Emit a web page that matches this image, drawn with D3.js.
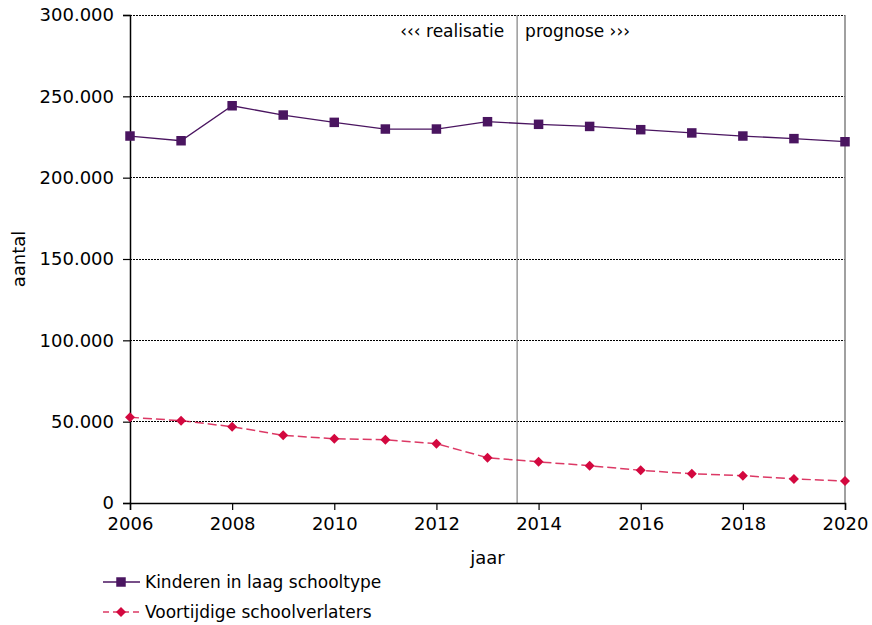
<!DOCTYPE html>
<html><head><meta charset="utf-8">
<script src="https://cdn.jsdelivr.net/npm/d3@7"></script>
<style>body{margin:0;background:#fff}svg{display:block}text{font-family:"DejaVu Sans",Verdana,sans-serif;fill:#000}</style>
</head><body><svg id="c" width="872" height="625"></svg>
<script>
const years = [2006,2007,2008,2009,2010,2011,2012,2013,2014,2015,2016,2017,2018,2019,2020];
const kinderen = [225600,222700,244200,238500,234000,229900,229900,234400,232800,231500,229500,227500,225600,224000,222100];
const voortijdig = [52700,50600,46900,41600,39500,38900,36500,27800,25300,22900,20100,18000,16800,14800,13500];
const yTicks = [0,50000,100000,150000,200000,250000,300000];
const xTicks = [2006,2008,2010,2012,2014,2016,2018,2020];
const separatorYear = 2013.58;
const seriesNames = ["Kinderen in laag schooltype","Voortijdige schoolverlaters"];

const svg = d3.select("#c");
const L=130,R=845,T=15,B=503;
const x = d3.scaleLinear().domain([2006,2020]).range([L,R]);
const y = d3.scaleLinear().domain([0,300000]).range([B,T]);
const fmt = v => v===0 ? "0" : d3.format(",")(v).replace(/,/g,".");
const fs = "18px";

// gridlines
svg.append("g").selectAll("line").data(yTicks.filter(d=>d>0)).join("line")
  .attr("x1",L).attr("x2",R).attr("y1",d=>y(d)).attr("y2",d=>y(d))
  .attr("stroke","#000").attr("stroke-width",1).attr("stroke-dasharray","2,1").attr("shape-rendering","crispEdges");
// right border
svg.append("line").attr("x1",R).attr("x2",R).attr("y1",T).attr("y2",B).attr("stroke","#808080").attr("stroke-width",1.5);
// separator
svg.append("line").attr("x1",x(separatorYear)).attr("x2",x(separatorYear)).attr("y1",T).attr("y2",B)
  .attr("stroke","#808080").attr("stroke-width",1.2);
svg.append("text").attr("x",x(separatorYear)-13).attr("y",37).attr("text-anchor","end").style("font-size","17px").text("‹‹‹ realisatie");
svg.append("text").attr("x",x(separatorYear)+8).attr("y",37).attr("text-anchor","start").style("font-size","17px").text("prognose ›››");

// axes
const yAxis = svg.append("g").attr("transform",`translate(${L},0)`)
  .call(d3.axisLeft(y).tickValues(yTicks).tickFormat(fmt).tickSize(7).tickPadding(9));
const xAxis = svg.append("g").attr("transform",`translate(0,${B})`)
  .call(d3.axisBottom(x).tickValues(xTicks).tickFormat(d3.format("d")).tickSize(7).tickPadding(7));
[yAxis,xAxis].forEach(g=>{
  g.select(".domain").attr("stroke","#000").attr("stroke-width",1.5);
  g.selectAll(".tick line").attr("stroke","#000").attr("stroke-width",1.2);
  g.selectAll("text").style("font-size",fs).style("font-family","DejaVu Sans, Verdana, sans-serif").attr("fill","#000");
});

svg.append("text").attr("x",(L+R)/2).attr("y",564).attr("text-anchor","middle").style("font-size",fs).text("jaar");
svg.append("text").attr("transform",`translate(25,${(T+B)/2}) rotate(-90)`).attr("text-anchor","middle").style("font-size",fs).text("aantal");

const purple="#4A1560", red="#D3083F";
const line = d3.line().x((d,i)=>x(years[i])).y(d=>y(d));
svg.append("path").datum(kinderen).attr("d",line).attr("fill","none").attr("stroke",purple).attr("stroke-width",1.3);
svg.append("path").datum(voortijdig).attr("d",line).attr("fill","none").attr("stroke",red).attr("stroke-width",1.5).attr("stroke-dasharray","9,4").attr("opacity",0.8);

const sq = d3.symbol().type(d3.symbolSquare).size(90);
const dm = d3.symbol().type(d3.symbolSquare).size(50);
svg.append("g").selectAll("path").data(kinderen).join("path")
  .attr("d",sq).attr("transform",(d,i)=>`translate(${x(years[i])},${y(d)})`).attr("fill",purple);
svg.append("g").selectAll("path").data(voortijdig).join("path")
  .attr("d",dm).attr("transform",(d,i)=>`translate(${x(years[i])},${y(d)}) rotate(45)`).attr("fill",red);

// legend
const lg = svg.append("g");
lg.append("line").attr("x1",103).attr("x2",140).attr("y1",582).attr("y2",582).attr("stroke",purple).attr("stroke-width",1.3);
lg.append("path").attr("d",sq).attr("transform","translate(121,582)").attr("fill",purple);
lg.append("text").attr("x",145).attr("y",588).style("font-size","17px").text(seriesNames[0]);
lg.append("line").attr("x1",103).attr("x2",140).attr("y1",612).attr("y2",612).attr("stroke",red).attr("stroke-width",1.5).attr("stroke-dasharray","6,4").attr("opacity",0.8);
lg.append("path").attr("d",dm).attr("transform","translate(121,612) rotate(45)").attr("fill",red);
lg.append("text").attr("x",145).attr("y",618).style("font-size","17px").text(seriesNames[1]);
</script></body></html>
